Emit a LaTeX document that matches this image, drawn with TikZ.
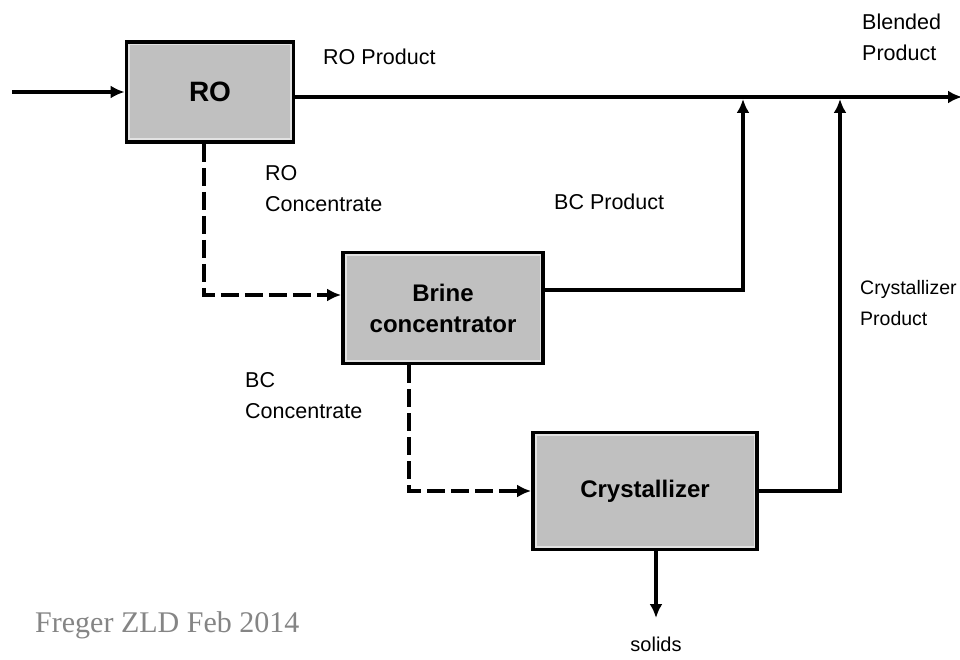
\documentclass[tikz,border=0pt]{standalone}
\usepackage{fontspec}
\setmainfont{Liberation Sans}
\newfontfamily\serifbox{Liberation Serif}
\usetikzlibrary{arrows.meta,calc}
\definecolor{boxgray}{HTML}{C0C0C0}
\definecolor{boxhi}{HTML}{E2E2E2}
\definecolor{notegray}{HTML}{858585}
\tikzset{
  unitbox/.style={draw=black,line width=3.8pt,fill=boxgray,inner sep=0pt,font=\fontsize{24}{31}\selectfont\bfseries,align=center},
  flow/.style={line width=3.4pt,-{Latex[length=14pt,width=13pt]}},
  dflow/.style={line width=3.2pt,dash pattern=on 18pt off 6pt,-{Latex[length=14pt,width=13pt]}},
  lbl/.style={font=\fontsize{21.5}{31}\selectfont,align=left,anchor=west,inner sep=0pt},
  hilite/.style={draw=boxhi,line width=1.8pt}
}
\begin{document}
\begin{tikzpicture}[x=1pt,y=-1pt]
\useasboundingbox[fill=white] (0,0) rectangle (960,660);
% boxes
\node[unitbox,minimum width=167pt,minimum height=100pt,font=\fontsize{28}{30}\selectfont\bfseries] (ro) at (210,92) {RO};
\node[unitbox,minimum width=200pt,minimum height=111pt] (brine) at (443,308) {Brine\\concentrator};
\node[unitbox,minimum width=224pt,minimum height=117pt] (cryst) at (645,491) {Crystallizer};
\foreach \b in {ro,brine,cryst}{
  \draw[hilite] ([shift={(4.5,4.5)}]\b.north west) rectangle ([shift={(-4.5,-4.5)}]\b.south east);
}
% coordinates
\coordinate (in) at (12,92);
\coordinate (roout) at (293,97);
\coordinate (j1) at (743,97);
\coordinate (j2) at (840,97);
\coordinate (out) at (962,97);
\coordinate (solidsend) at (656,618);
% connectors
\draw[flow] (in) -- (ro.west);
\draw[flow] (roout) -- (out);
\draw[flow] ([yshift=18pt]brine.east) -| ([yshift=-2pt]j1);
\draw[flow] (cryst.east) -| ([yshift=-2pt]j2);
\draw[dflow] ([xshift=-6pt]ro.south) |- ([yshift=13pt]brine.west);
\draw[dflow] ([xshift=-34pt]brine.south) |- (cryst.west);
\draw[flow] ([xshift=11pt]cryst.south) -- (solidsend);
% labels
\node[lbl] (lroprod) at (323,57) {RO Product};
\node[lbl] (lblend) at (862,37) {Blended\\Product};
\node[lbl] (lrocon) at (265,189) {RO\\Concentrate};
\node[lbl] (lbcprod) at (554,202) {BC Product};
\node[lbl,font=\fontsize{19.5}{31}\selectfont] (lcrprod) at (860,303) {Crystallizer\\Product};
\node[lbl] (lbccon) at (245,396) {BC\\Concentrate};
\node[lbl,anchor=center,font=\fontsize{20}{24}\selectfont] (lsolids) at (656,644) {solids};
\node[anchor=west,inner sep=0pt,text=notegray,font=\serifbox\fontsize{30}{34}\selectfont] (note) at (35,625) {Freger ZLD Feb 2014};
\end{tikzpicture}
\end{document}
